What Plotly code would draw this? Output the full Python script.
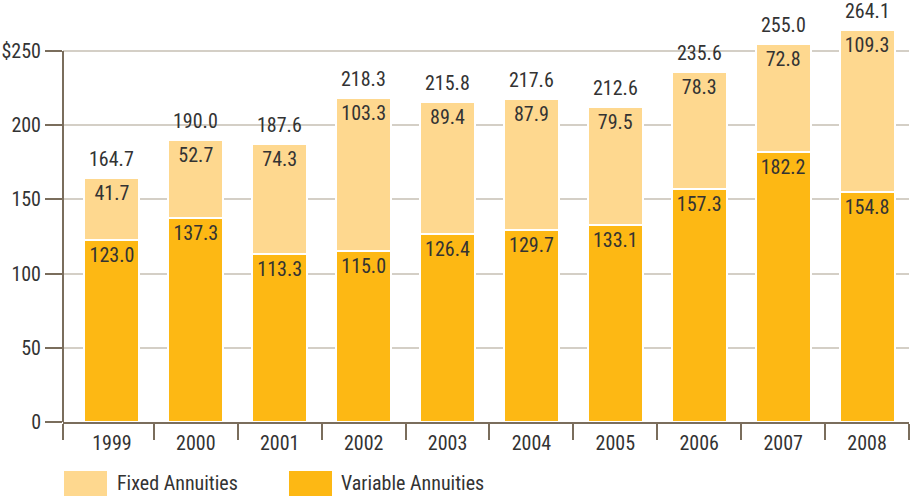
import plotly.graph_objects as go

years = ["1999", "2000", "2001", "2002", "2003", "2004", "2005", "2006", "2007", "2008"]
variable = [123.0, 137.3, 113.3, 115.0, 126.4, 129.7, 133.1, 157.3, 182.2, 154.8]
fixed = [41.7, 52.7, 74.3, 103.3, 89.4, 87.9, 79.5, 78.3, 72.8, 109.3]
totals = [164.7, 190.0, 187.6, 218.3, 215.8, 217.6, 212.6, 235.6, 255.0, 264.1]
ytick_vals = [0, 50, 100, 150, 200, 250]
ytick_text = ["0", "50", "100", "150", "200", "$250"]
series_names = ["Fixed Annuities", "Variable Annuities"]

FIXED_C = "#FED88F"
VAR_C = "#FDB814"
TEXT_C = "#333333"
AXIS_C = "#7A6D5C"
GRID_C = "#D4CFC6"
FONT = "Roboto Condensed, Roboto, sans-serif"
FS = 20

W, H = 914, 497
ML, MR, MT, MB = 63, 5, 14, 75
PW, PH = W - ML - MR, H - MT - MB

def px_x(px):
    return (px - ML) / PW

def px_y(py):
    return (H - MB - py) / PH

n = len(years)
xs = list(range(n))

fig = go.Figure()
fig.add_trace(go.Bar(
    x=xs, y=variable, name=series_names[1], marker=dict(color=VAR_C, line=dict(color="white", width=2)),
    texttemplate="%{y:.1f}", textposition="inside", insidetextanchor="end", constraintext="none",
    textangle=0, textfont=dict(size=FS, color=TEXT_C, family=FONT), showlegend=False,
))
fig.add_trace(go.Bar(
    x=xs, y=fixed, name=series_names[0], marker=dict(color=FIXED_C, line=dict(color="white", width=2)),
    texttemplate="%{y:.1f}", textposition="inside", insidetextanchor="end", constraintext="none",
    textangle=0, textfont=dict(size=FS, color=TEXT_C, family=FONT), showlegend=False,
))
# invisible trace to carry year labels on overlaying axis
fig.add_trace(go.Scatter(x=xs, y=[0] * n, xaxis="x2", mode="markers", marker=dict(opacity=0),
                         showlegend=False, hoverinfo="skip"))

for i, t in enumerate(totals):
    fig.add_annotation(x=i, y=t, text=f"{t:.1f}", showarrow=False, yanchor="bottom", yshift=5,
                       font=dict(size=FS, color=TEXT_C, family=FONT))

xrange = [-0.583, 9.5]
boundaries = [xrange[0]] + [i + 0.5 for i in range(n)]

fig.update_layout(
    width=W, height=H, margin=dict(l=ML, r=MR, t=MT, b=MB, autoexpand=False),
    paper_bgcolor="white", plot_bgcolor="white",
    barmode="stack", bargap=0.345,
    font=dict(family=FONT, size=FS, color=TEXT_C),
    xaxis=dict(range=xrange, tickmode="array", tickvals=boundaries, ticktext=[""] * len(boundaries),
               ticks="outside", ticklen=16, tickwidth=2, tickcolor=AXIS_C, automargin=False,
               showline=True, linecolor=AXIS_C, linewidth=2, showgrid=False, zeroline=False),
    xaxis2=dict(overlaying="x", anchor="y", side="bottom", range=xrange, tickmode="array",
                tickvals=xs, ticktext=years, ticks="outside", ticklen=3, tickcolor="rgba(0,0,0,0)",
                showline=False, showgrid=False, zeroline=False, automargin=False,
                tickfont=dict(size=FS, color=TEXT_C, family=FONT)),
    yaxis=dict(range=[0, 275], tickmode="array", tickvals=ytick_vals, ticktext=ytick_text,
               ticks="outside", ticklen=17, tickwidth=2, tickcolor=AXIS_C, automargin=False,
               showline=False, showgrid=True, gridcolor=GRID_C, gridwidth=2, zeroline=False,
               tickfont=dict(size=FS, color=TEXT_C, family=FONT)),
    showlegend=False,
)

# y-axis line from 0 to 250 only
fig.add_shape(type="line", xref="paper", yref="y", x0=0, x1=0, y0=0, y1=ytick_vals[-1],
              line=dict(color=AXIS_C, width=2), layer="above")

# custom legend with large swatches
legend_items = [(series_names[0], FIXED_C, 64, 115), (series_names[1], VAR_C, 289, 339)]
for name, col, sx, tx in legend_items:
    fig.add_shape(type="rect", xref="paper", yref="paper", x0=px_x(sx), x1=px_x(sx + 43),
                  y0=px_y(496), y1=px_y(471), fillcolor=col, line=dict(width=0))
    fig.add_annotation(xref="paper", yref="paper", x=px_x(tx), y=px_y(483), text=name,
                       xanchor="left", yanchor="middle", showarrow=False,
                       font=dict(size=FS, color=TEXT_C, family=FONT))

fig.write_html("out.html")
